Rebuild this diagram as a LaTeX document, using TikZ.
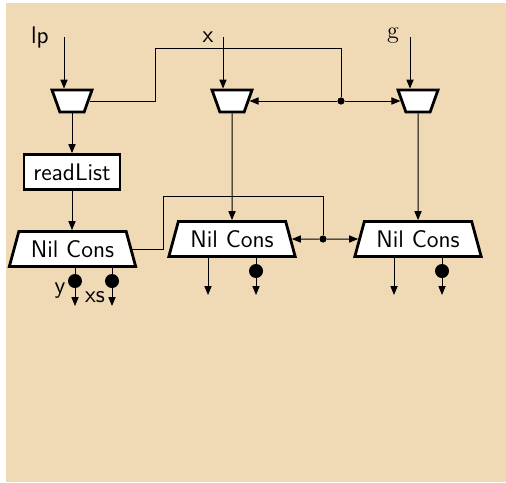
\documentclass[tikz,border=0pt]{standalone}
\usepackage{tikz}
\usetikzlibrary{arrows.meta,positioning,shapes.geometric}
\definecolor{paper}{RGB}{240,217,181}

\begin{document}
\begin{tikzpicture}[
    x=0.5pt, y=-0.5pt,
    font=\sffamily\large,
    mux/.style={draw, fill=white, line width=1.4pt, trapezium, trapezium left angle=108, trapezium right angle=108, trapezium stretches=true, inner sep=1pt, minimum width=20pt, minimum height=11pt},
    match/.style={draw, fill=white, line width=1.4pt, trapezium, trapezium left angle=70, trapezium right angle=70, trapezium stretches=true, inner sep=1pt, minimum width=63.5pt, minimum height=17.5pt},
    box/.style={draw, fill=white, line width=1.4pt, align=center, minimum width=48pt, minimum height=17.5pt, inner sep=1pt},
    lbl/.style={inner sep=0pt},
    dot/.style={circle, fill, inner sep=0pt, minimum size=7pt},
    joint/.style={circle, fill, inner sep=0pt, minimum size=3.6pt},
    wire/.style={line width=0.5pt},
    line/.style={-{Triangle[length=4.5pt,width=3.6pt]}, line width=0.5pt}
]
\useasboundingbox (0,0) rectangle (506,482);
\fill[paper] (6,3) rectangle (506,482);

% inputs
\node[lbl] (lp) at (40,37) {lp};
\node[lbl] (x) at (208,37) {x};
\node[lbl, font=\rmfamily\large] (g) at (393,36) {g};
\coordinate (lpin) at (64,37);
\coordinate (xin) at (223,37);
\coordinate (gin) at (410,37);

% selectors
\node[mux] (mux1) at (72,101) {};
\node[mux] (mux2) at (232,101) {};
\node[mux] (mux3) at (418,101) {};
\node[joint] (j1) at (341,101) {};

\node[box] (read) at (72,172) {readList};

% pattern matches
\node[match] (nc1) at (72.5,249) {Nil Cons};
\node[match] (nc2) at (232,239) {Nil Cons};
\node[match] (nc3) at (418,239) {Nil Cons};
\node[joint] (j2) at (323,239) {};

% bound variables
\node[dot] (d1) at (75,281) {};
\node[dot] (d2) at (112,281) {};
\node[dot] (d3) at (256,271) {};
\node[dot] (d4) at (442,271) {};
\node[lbl] (yv) at (60,291) {y};
\node[lbl] (xsv) at (95,297) {xs};
\coordinate (e1) at (75,306);
\coordinate (e2) at (112,306);
\coordinate (e3) at (208,295);
\coordinate (e4) at (256,295);
\coordinate (e5) at (394,295);
\coordinate (e6) at (442,295);

\draw[line] (lpin) -- (lpin |- mux1.north);
\draw[line] (xin) -- (xin |- mux2.north);
\draw[line] (gin) -- (gin |- mux3.north);
\draw[line] (mux1.south) -- (read.north);
\draw[line] (read.south) -- (read.south |- nc1.north);
\draw[line] (mux2.south) -- (nc2.north);
\draw[line] (mux3.south) -- (nc3.north);

\draw[wire] (mux1.east) -| (155,48) -| (j1);
\draw[line] (j1) -- (mux2.east);
\draw[line] (j1) -- (mux3.west);

\draw[wire] (nc1.east) -| (163,196) -| (j2);
\draw[line] (j2) -- (nc2.east);
\draw[line] (j2) -- (nc3.west);

\draw[wire] (d1 |- nc1.south) -- (d1);
\draw[wire] (d2 |- nc1.south) -- (d2);
\draw[wire] (d3 |- nc2.south) -- (d3);
\draw[wire] (d4 |- nc3.south) -- (d4);
\draw[line] (d1) -- (e1);
\draw[line] (d2) -- (e2);
\draw[line] (d3) -- (e4);
\draw[line] (d4) -- (e6);
\draw[line] (e3 |- nc2.south) -- (e3);
\draw[line] (e5 |- nc3.south) -- (e5);
\end{tikzpicture}
\end{document}
